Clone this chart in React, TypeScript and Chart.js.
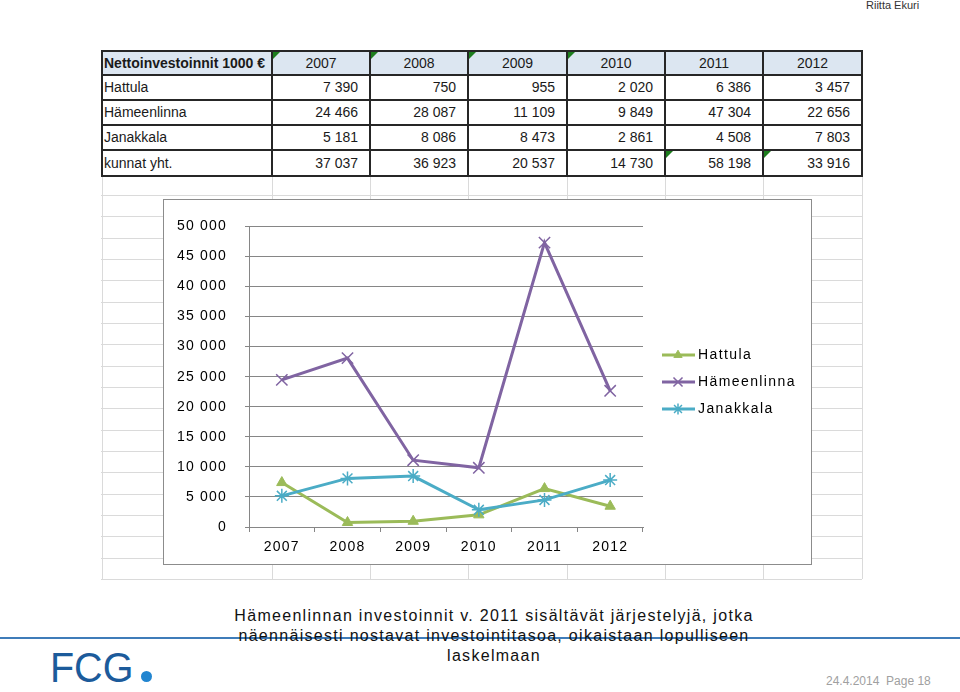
import React, { useEffect, useRef } from "react";
import { Chart, registerables } from "chart.js";
import { drawPoint } from "chart.js/helpers";

Chart.register(...registerables);

// ---- data ----
const years = ["2007", "2008", "2009", "2010", "2011", "2012"];
const seriesNames = ["Hattula", "Hämeenlinna", "Janakkala"];
const hattula = [7390, 750, 955, 2020, 6386, 3457];
const hameenlinna = [24466, 28087, 11109, 9849, 47304, 22656];
const janakkala = [5181, 8086, 8473, 2861, 4508, 7803];
const kunnatYht = [37037, 36923, 20537, 14730, 58198, 33916];
const totalLabel = "kunnat yht.";
const tableTitle = "Nettoinvestoinnit 1000 €";
const yMin = 0;
const yMax = 50000;
const yStep = 5000;
const noteLines = [
  "Hämeenlinnan investoinnit v. 2011 sisältävät järjestelyjä, jotka",
  "näennäisesti nostavat investointitasoa, oikaistaan lopulliseen",
  "laskelmaan",
];

const FONT = "'Liberation Sans', Arial, Helvetica, sans-serif";
const GREEN = "#9BBB59";
const PURPLE = "#8064A2";
const TEAL = "#4BACC6";
const AXIS = "#868686";

const fmt = (n: number) => String(n).replace(/\B(?=(\d{3})+(?!\d))/g, " ");

const spacingPlugin = {
  id: "spacing",
  beforeDraw(chart: any) {
    chart.ctx.letterSpacing = "1.2px";
  },
};

const legendPlugin = {
  id: "sideLegend",
  afterDraw(chart: any) {
    const { ctx, chartArea } = chart;
    const cy = chart.height / 2;
    const x1 = chartArea.right + 19;
    const x2 = chartArea.right + 52;
    const mx = chartArea.right + 35;
    const tx = chartArea.right + 55;
    seriesNames.forEach((name, i) => {
      const ds: any = chart.data.datasets[i];
      const y = Math.round(cy + (i - 1) * 27);
      ctx.save();
      ctx.strokeStyle = ds.borderColor;
      ctx.lineWidth = 3;
      ctx.beginPath();
      ctx.moveTo(x1, y);
      ctx.lineTo(x2, y);
      ctx.stroke();
      ctx.fillStyle = ds.pointBackgroundColor;
      ctx.strokeStyle = ds.pointBorderColor;
      ctx.lineWidth = ds.pointBorderWidth;
      drawPoint(
        ctx,
        {
          pointStyle: ds.pointStyle,
          radius: ds.pointRadius * 0.8,
          rotation: 0,
          borderWidth: ds.pointBorderWidth,
        } as any,
        mx,
        y
      );
      ctx.fillStyle = "#000";
      ctx.font = `14px ${FONT}`;
      ctx.textBaseline = "middle";
      ctx.textAlign = "left";
      ctx.letterSpacing = "1.4px";
      ctx.fillText(name, tx, y);
      ctx.restore();
    });
  },
};

function LineChart() {
  const ref = useRef<HTMLCanvasElement | null>(null);
  useEffect(() => {
    if (!ref.current) return;
    const chart = new Chart(ref.current, {
      type: "line",
      data: {
        labels: years,
        datasets: [
          {
            label: seriesNames[0],
            data: hattula,
            borderColor: GREEN,
            backgroundColor: GREEN,
            borderWidth: 3,
            pointStyle: "triangle",
            pointRadius: 6,
            pointBackgroundColor: GREEN,
            pointBorderColor: GREEN,
            pointBorderWidth: 1,
            order: 3,
          } as any,
          {
            label: seriesNames[1],
            data: hameenlinna,
            borderColor: PURPLE,
            backgroundColor: PURPLE,
            borderWidth: 3,
            pointStyle: "crossRot",
            pointRadius: 8,
            pointBackgroundColor: PURPLE,
            pointBorderColor: PURPLE,
            pointBorderWidth: 1.5,
            order: 2,
          } as any,
          {
            label: seriesNames[2],
            data: janakkala,
            borderColor: TEAL,
            backgroundColor: TEAL,
            borderWidth: 3,
            pointStyle: "star",
            pointRadius: 7,
            pointBackgroundColor: TEAL,
            pointBorderColor: TEAL,
            pointBorderWidth: 1.5,
            order: 1,
          } as any,
        ],
      },
      options: {
        animation: false,
        responsive: false,
        maintainAspectRatio: false,
        layout: { padding: { left: 0, top: 16, right: 168, bottom: 0 } },
        plugins: { legend: { display: false }, tooltip: { enabled: false } },
        scales: {
          x: {
            type: "category",
            offset: true,
            grid: {
              display: true,
              drawOnChartArea: false,
              drawTicks: true,
              tickLength: 5,
              color: AXIS,
              offset: true,
            },
            border: { display: true, color: AXIS, width: 1 },
            ticks: {
              font: { family: FONT, size: 14 },
              color: "#000",
              padding: 7,
              maxRotation: 0,
            },
            afterFit: (s: any) => {
              s.height = 37;
            },
          },
          y: {
            min: yMin,
            max: yMax,
            grid: { color: AXIS, lineWidth: 1, tickLength: 4, drawTicks: true },
            border: { display: true, color: AXIS, width: 1 },
            ticks: {
              stepSize: yStep,
              font: { family: FONT, size: 14 },
              color: "#000",
              padding: 18,
              callback: (v: any) => fmt(Number(v)),
            },
            afterFit: (s: any) => {
              s.width = 85;
            },
          },
        } as any,
      },
      plugins: [spacingPlugin, legendPlugin],
    });
    return () => chart.destroy();
  }, []);
  return <canvas ref={ref} width={647} height={364} style={{ display: "block" }} />;
}

// ---- layout helpers (decoration) ----
const colXs = [102, 272, 370, 468, 567, 665, 763, 862];
const rowYs = [51, 75, 100, 125, 150, 176];
const headerCorner = [true, true, true, true, false, false];
const totalCorner = [false, false, false, false, true, true];

function Corner() {
  return (
    <span
      style={{
        position: "absolute",
        left: 1,
        top: 1,
        width: 0,
        height: 0,
        borderTop: "7px solid #1d7d1d",
        borderRight: "7px solid transparent",
      }}
    />
  );
}

function Table() {
  const rows: { label: string; values: number[] }[] = [
    { label: seriesNames[0], values: hattula },
    { label: seriesNames[1], values: hameenlinna },
    { label: seriesNames[2], values: janakkala },
    { label: totalLabel, values: kunnatYht },
  ];
  const els: React.ReactNode[] = [];
  els.push(
    <div
      key="hbg"
      style={{
        position: "absolute",
        left: colXs[0],
        top: rowYs[0],
        width: colXs[7] - colXs[0],
        height: rowYs[1] - rowYs[0],
        background: "#dce6f1",
      }}
    />
  );
  const cellStyle = (c: number, r: number): React.CSSProperties => ({
    position: "absolute",
    left: colXs[c],
    top: rowYs[r],
    width: colXs[c + 1] - colXs[c],
    height: rowYs[r + 1] - rowYs[r],
    lineHeight: `${rowYs[r + 1] - rowYs[r]}px`,
    fontFamily: FONT,
    fontSize: 14,
    color: "#1a1a1a",
    whiteSpace: "nowrap",
    boxSizing: "border-box",
  });
  els.push(
    <div key="title" style={{ ...cellStyle(0, 0), fontWeight: "bold", paddingLeft: 2 }}>
      {tableTitle}
    </div>
  );
  years.forEach((y, i) => {
    els.push(
      <div key={"h" + i} style={{ ...cellStyle(i + 1, 0), textAlign: "center" }}>
        {headerCorner[i] && <Corner />}
        {y}
      </div>
    );
  });
  rows.forEach((row, r) => {
    els.push(
      <div key={"l" + r} style={{ ...cellStyle(0, r + 1), paddingLeft: 2 }}>
        {row.label}
      </div>
    );
    row.values.forEach((v, i) => {
      els.push(
        <div key={`v${r}_${i}`} style={{ ...cellStyle(i + 1, r + 1), textAlign: "right", paddingRight: 12 }}>
          {r === 3 && totalCorner[i] && <Corner />}
          {fmt(v)}
        </div>
      );
    });
  });
  rowYs.forEach((y, i) =>
    els.push(
      <div
        key={"hl" + i}
        style={{ position: "absolute", left: colXs[0] - 1, top: y - 1, width: colXs[7] - colXs[0] + 2, height: 2, background: "#262626" }}
      />
    )
  );
  colXs.forEach((x, i) =>
    els.push(
      <div
        key={"vl" + i}
        style={{ position: "absolute", left: x - 1, top: rowYs[0] - 1, width: 2, height: rowYs[5] - rowYs[0] + 2, background: "#262626" }}
      />
    )
  );
  return <>{els}</>;
}

function SheetGrid() {
  const els: React.ReactNode[] = [];
  for (let k = 0; k <= 18; k++) {
    const y = Math.round(195 + k * 21.33);
    els.push(
      <div key={"g" + k} style={{ position: "absolute", left: 101, top: y, width: 761, height: 1, background: "#dadada" }} />
    );
  }
  colXs.forEach((x, i) =>
    els.push(
      <div key={"gv" + i} style={{ position: "absolute", left: x, top: 176, width: 1, height: 403, background: "#dadada" }} />
    )
  );
  return <>{els}</>;
}

export default function App() {
  return (
    <div
      style={{
        position: "absolute",
        left: 0,
        top: 0,
        width: 960,
        height: 692,
        background: "#fff",
        overflow: "hidden",
        fontFamily: FONT,
      }}
    >
      <div style={{ position: "absolute", left: 866, top: -1, fontSize: 11, color: "#333", fontFamily: FONT }}>
        Riitta Ekuri
      </div>
      <SheetGrid />
      <Table />
      <div
        style={{
          position: "absolute",
          left: 163,
          top: 199,
          width: 647,
          height: 364,
          border: "1px solid #8c8c8c",
          background: "#fff",
        }}
      >
        <LineChart />
      </div>
      <div style={{ position: "absolute", left: 0, top: 637, width: 960, height: 2, background: "#3f7cb9" }} />
      <div
        style={{
          position: "absolute",
          left: 0,
          top: 606,
          width: 988,
          textAlign: "center",
          fontFamily: FONT,
          fontSize: 16,
          lineHeight: "20px",
          letterSpacing: "1.3px",
          color: "#111",
        }}
      >
        {noteLines.map((l, i) => (
          <div key={i}>{l}</div>
        ))}
      </div>
      <div
        style={{
          position: "absolute",
          left: 50,
          top: 647,
          fontSize: 42,
          lineHeight: "42px",
          color: "#1c5b9b",
          fontFamily: FONT,
          transform: "scaleX(0.94)",
          transformOrigin: "left top",
        }}
      >
        FCG
      </div>
      <div
        style={{
          position: "absolute",
          left: 141,
          top: 671,
          width: 11,
          height: 11,
          borderRadius: "50%",
          background: "#2185d0",
        }}
      />
      <div
        style={{
          position: "absolute",
          left: 826,
          top: 674,
          fontSize: 12,
          color: "#a0a0a0",
          fontFamily: FONT,
          whiteSpace: "nowrap",
        }}
      >
        24.4.2014&nbsp; Page 18
      </div>
    </div>
  );
}
